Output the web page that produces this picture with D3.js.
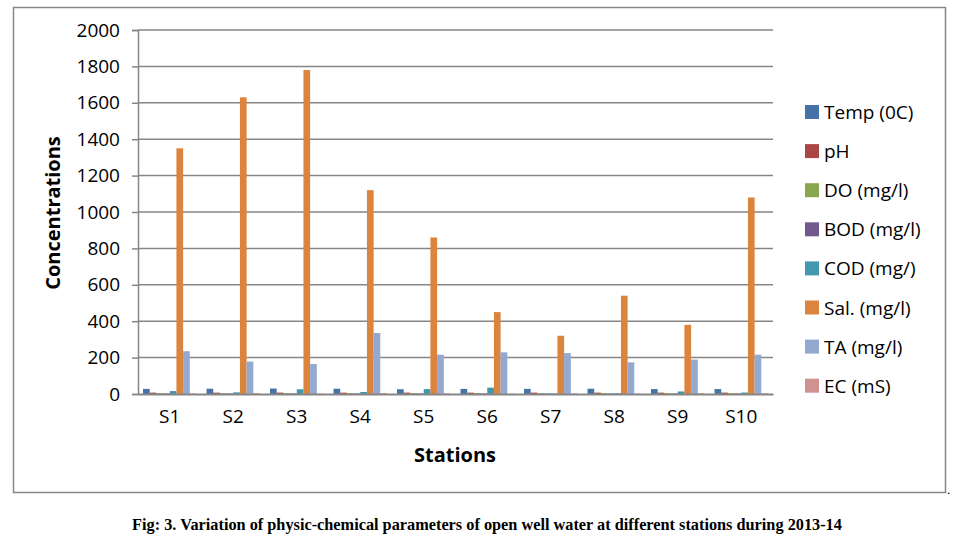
<!DOCTYPE html>
<html>
<head>
<meta charset="utf-8">
<script src="https://cdn.jsdelivr.net/npm/d3@7"></script>
<style>
  body { margin: 0; background: #fff; }
  svg text { font-family: "Open Sans", "Liberation Sans", sans-serif; fill: #000; }
</style>
</head>
<body>
<div id="chart"></div>
<script>
// Data
var stations = ["S1", "S2", "S3", "S4", "S5", "S6", "S7", "S8", "S9", "S10"];
var seriesNames = ["Temp (0C)", "pH", "DO (mg/l)", "BOD (mg/l)", "COD (mg/)", "Sal. (mg/l)", "TA (mg/l)", "EC (mS)"];
var temp = [28, 29, 30, 29, 26, 28, 28, 29, 27, 27];
var ph   = [7.5, 7.4, 7.6, 7.3, 7.5, 7.4, 7.6, 7.5, 7.4, 7.5];
var dox  = [5, 4.8, 5.2, 4.9, 5, 5.1, 4.7, 5, 4.9, 5];
var bod  = [3, 2.8, 3.2, 3, 2.9, 3.1, 2.7, 3, 2.8, 3];
var cod  = [16, 9, 26, 11, 27, 35, 3, 4, 14, 8];
var sal  = [1350, 1630, 1780, 1120, 860, 450, 320, 540, 380, 1080];
var ta   = [235, 178, 165, 335, 216, 229, 225, 174, 189, 216];
var ec   = [3, 4, 2, 5, 3, 2, 3, 2, 4, 4];
var yTicks = [0, 200, 400, 600, 800, 1000, 1200, 1400, 1600, 1800, 2000];

var colors = ["#4572A7", "#AA4643", "#89A54E", "#71588F", "#4198AF", "#DB843D", "#93A9CF", "#D19392"];
var allSeries = [temp, ph, dox, bod, cod, sal, ta, ec];

var svg = d3.select("#chart").append("svg")
  .attr("width", 957)
  .attr("height", 541);

// outer chart frame
svg.append("rect")
  .attr("x", 13.5).attr("y", 7.5)
  .attr("width", 932).attr("height", 485)
  .attr("fill", "none")
  .attr("stroke", "#868686")
  .attr("stroke-width", 1.5);

var plotLeft = 138, plotRight = 773, plotTop = 30, plotBottom = 394;

var x = d3.scaleBand()
  .domain(stations)
  .range([plotLeft, plotRight])
  .paddingInner(0)
  .paddingOuter(0);

var y = d3.scaleLinear()
  .domain([0, 2000])
  .range([plotBottom, plotTop]);

// bars inside each band, Excel-like gap width 150%
var inner = d3.scaleBand()
  .domain(d3.range(seriesNames.length))
  .range([0, x.bandwidth()])
  .paddingInner(0)
  .paddingOuter(0.75);

// grid lines
svg.selectAll(".grid")
  .data(yTicks.slice(1))
  .enter()
  .append("line")
  .attr("class", "grid")
  .attr("x1", plotLeft)
  .attr("x2", plotRight)
  .attr("y1", function(d) { return y(d); })
  .attr("y2", function(d) { return y(d); })
  .attr("stroke", "#868686")
  .attr("stroke-width", 1.5);

// y axis
var yAxisGroup = svg.append("g")
  .attr("transform", "translate(" + plotLeft + ",0)")
  .call(d3.axisLeft(y).tickValues(yTicks).tickFormat(d3.format("d")).tickSize(6).tickPadding(12));
yAxisGroup.select(".domain").attr("stroke", "#868686").attr("stroke-width", 1.5);
yAxisGroup.selectAll(".tick line").attr("stroke", "#868686").attr("stroke-width", 1.5);
yAxisGroup.selectAll(".tick text")
  .style("font-size", "19px")
  .style("font-family", "'Open Sans', sans-serif")
  .attr("fill", "#000");

// bars
var groups = svg.selectAll(".station")
  .data(stations)
  .enter()
  .append("g")
  .attr("class", "station")
  .attr("transform", function(d) { return "translate(" + x(d) + ",0)"; });

groups.selectAll("rect")
  .data(function(d, i) {
    return allSeries.map(function(s, k) { return { k: k, v: s[i] }; });
  })
  .enter()
  .append("rect")
  .attr("x", function(d) { return inner(d.k); })
  .attr("width", inner.bandwidth())
  .attr("y", function(d) { return y(d.v); })
  .attr("height", function(d) { return y(0) - y(d.v); })
  .attr("fill", function(d) { return colors[d.k]; });

// x axis
var xAxisGroup = svg.append("g")
  .attr("transform", "translate(0," + plotBottom + ")")
  .call(d3.axisBottom(x).tickSize(0).tickPadding(16));
xAxisGroup.select(".domain").attr("stroke", "#868686").attr("stroke-width", 2);
xAxisGroup.selectAll(".tick text")
  .style("font-size", "19px")
  .style("font-family", "'Open Sans', sans-serif")
  .attr("fill", "#000");

// axis titles
svg.append("text")
  .attr("x", 455)
  .attr("y", 462)
  .attr("text-anchor", "middle")
  .style("font-size", "20px")
  .style("font-weight", "bold")
  .text("Stations");

svg.append("text")
  .attr("transform", "translate(60,213) rotate(-90)")
  .attr("text-anchor", "middle")
  .style("font-size", "20px")
  .style("font-weight", "bold")
  .text("Concentrations");

// legend
var legend = svg.selectAll(".legend")
  .data(seriesNames)
  .enter()
  .append("g")
  .attr("class", "legend")
  .attr("transform", function(d, i) { return "translate(805," + (112 + i * 39.1) + ")"; });

legend.append("rect")
  .attr("x", 0).attr("y", -7)
  .attr("width", 14).attr("height", 14)
  .attr("fill", function(d, i) { return colors[i]; });

legend.append("text")
  .attr("x", 19)
  .attr("y", 7)
  .style("font-size", "19px")
  .text(function(d) { return d; });

// caption
svg.append("text")
  .attr("x", 947).attr("y", 494)
  .style("font-family", "'Liberation Serif', serif")
  .style("font-size", "13px")
  .text(".");

svg.append("text")
  .attr("x", 487)
  .attr("y", 530)
  .attr("text-anchor", "middle")
  .style("font-family", "'Liberation Serif', 'Times New Roman', serif")
  .style("font-size", "16.3px")
  .style("font-weight", "bold")
  .text("Fig: 3. Variation of physic-chemical parameters of open well water at different stations during 2013-14");
</script>
</body>
</html>
